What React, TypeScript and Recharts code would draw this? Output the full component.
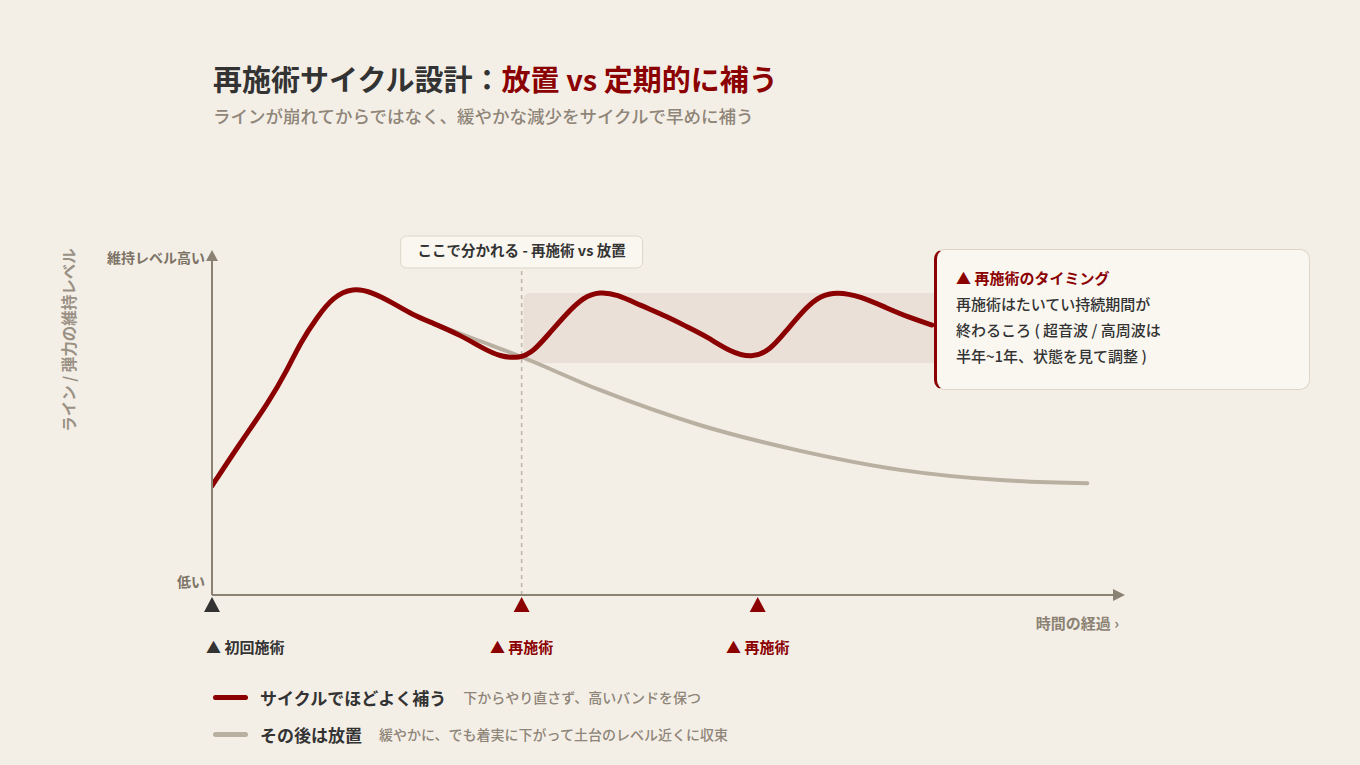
import React from 'react';
import { LineChart, Line, XAxis, YAxis, ReferenceLine, ReferenceArea, ReferenceDot } from 'recharts';

// ---- data ----
const cycleTime = [0, 3.1, 6.2, 8.3, 9.7, 11.6, 13.3, 15.5, 17.7, 19.9, 22.1, 24.3, 27.3, 29.8, 31.7, 33.9, 35.4, 37.2, 39.1, 40.9, 42.7, 44.6, 47.1, 50.1, 52.3, 54.5, 57.0, 59.5, 61.5, 63.3, 65.5, 67.0, 68.8, 71.4, 74.3, 76.9, 79.3];
const cycleLevel = [32.1, 44.7, 56.5, 66.2, 74.1, 81.8, 87.6, 90.4, 89.0, 85.9, 82.4, 80.0, 76.5, 72.6, 70.1, 69.6, 71.6, 77.1, 82.9, 87.6, 89.2, 88.4, 85.3, 81.9, 78.9, 76.0, 71.6, 69.6, 72.1, 77.9, 84.8, 88.0, 89.2, 87.9, 84.4, 81.5, 79.4];
const neglectTime = [24.3, 29.2, 34.1, 42.7, 53.7, 64.8, 75.8, 86.8, 96.4];
const neglectLevel = [80.0, 75.0, 70.0, 60.3, 50.0, 42.4, 36.8, 33.8, 32.9];
const bandRange = [34.3, 88, 68.2, 88.8]; // t1, t2, low, high
const splitTime = 34.1;
const markerTimes = [0, 34.1, 60.1];
const markerLabels = ['初回施術', '再施術', '再施術'];
const markerKinds = ['initial', 'retreat', 'retreat'];
const yTickValues = [3.5, 98.8];
const yTickLabels = ['低い', '維持レベル高い'];
const legendNames = ['サイクルでほどよく補う', 'その後は放置'];
const legendNotes = ['下からやり直さず、高いバンドを保つ', '緩やかに、でも着実に下がって土台のレベル近くに収束'];

const cycleData = cycleTime.map((t, i) => ({ t, v: cycleLevel[i] }));
const neglectData = neglectTime.map((t, i) => ({ t, v: neglectLevel[i] }));

const RED = '#8b0000';
const GRAY = '#bab0a1';
const AXIS = '#8c8273';
const BG = '#f3efe7';
const FONT = "'Noto Sans CJK JP', 'Noto Sans', sans-serif";

const MarkerShape = (props: any) => {
  const { cx, cy, idx } = props;
  const kind = markerKinds[idx];
  const color = kind === 'initial' ? '#333333' : RED;
  const anchor = kind === 'initial' ? 'start' : 'middle';
  const tx = kind === 'initial' ? cx - 6 : cx;
  return (
    <g>
      <polygon points={`${cx},${cy + 2} ${cx - 8},${cy + 17} ${cx + 8},${cy + 17}`} fill={color} />
      <text x={tx} y={cy + 54} textAnchor={anchor} dominantBaseline="middle" fill={color} fontSize={15} fontWeight={700} fontFamily={FONT}>
        {'▲ ' + markerLabels[idx]}
      </text>
    </g>
  );
};

const UpArrow = (props: any) => {
  const { cx, cy } = props;
  return <polygon points={`${cx},${cy - 5} ${cx - 6},${cy + 6} ${cx + 6},${cy + 6}`} fill={AXIS} />;
};
const RightArrow = (props: any) => {
  const { cx, cy } = props;
  return <polygon points={`${cx + 5},${cy} ${cx - 7},${cy - 6} ${cx - 7},${cy + 6}`} fill={AXIS} />;
};

const SplitLabel = (props: any) => {
  const vb = props.viewBox || {};
  const x = vb.x;
  const y = vb.y;
  return (
    <g>
      <rect x={x - 121} y={y - 19} width={242} height={32} rx={6} ry={6} fill="#faf7f1" stroke="#ddd5c8" strokeWidth={1} />
      <text x={x} y={y - 3} textAnchor="middle" dominantBaseline="middle" fill="#333" fontSize={14.5} fontWeight={700} fontFamily={FONT}>
        ここで分かれる - 再施術 vs 放置
      </text>
    </g>
  );
};

const YTick = (props: any) => {
  const { x, y, payload } = props;
  const i = yTickValues.indexOf(payload.value);
  return (
    <text x={x} y={y} textAnchor="end" dominantBaseline="middle" fill="#7d7366" fontSize={14} fontWeight={700} fontFamily={FONT}>
      {yTickLabels[i]}
    </text>
  );
};

export default function App() {
  return (
    <div style={{ position: 'absolute', left: 0, top: 0, width: 1360, height: 765, background: BG, fontFamily: FONT, overflow: 'hidden' }}>
      <div style={{ position: 'absolute', left: 213, top: 61, fontSize: 29, fontWeight: 700, lineHeight: '34px', color: '#333', whiteSpace: 'nowrap' }}>
        再施術サイクル設計：<span style={{ color: RED }}>放置 vs 定期的に補う</span>
      </div>
      <div style={{ position: 'absolute', left: 213, top: 105, fontSize: 17.5, fontWeight: 500, lineHeight: '22px', color: '#8f8578', whiteSpace: 'nowrap' }}>
        ラインが崩れてからではなく、緩やかな減少をサイクルで早めに補う
      </div>

      <div style={{ position: 'absolute', left: 0, top: 0 }}>
        <LineChart width={1360} height={765} data={cycleData} margin={{ top: 255, right: 240, bottom: 170, left: 92 }}>
          <XAxis type="number" dataKey="t" domain={[0, 100]} hide allowDataOverflow />
          <YAxis
            type="number"
            domain={[0, 100]}
            width={120}
            ticks={yTickValues}
            tick={<YTick />}
            tickLine={false}
            tickSize={0}
            tickMargin={7}
            axisLine={{ stroke: AXIS, strokeWidth: 2 }}
            interval={0}
          />
          <ReferenceArea x1={bandRange[0]} x2={bandRange[1]} y1={bandRange[2]} y2={bandRange[3]} fill="#ebe0d7" fillOpacity={1} stroke="none" radius={6} />
          <ReferenceLine x={splitTime} stroke="#bdb3a6" strokeWidth={1.5} strokeDasharray="4 4" label={<SplitLabel />} />
          <ReferenceLine y={0} stroke={AXIS} strokeWidth={2} />
          <Line data={neglectData} dataKey="v" type="monotone" stroke={GRAY} strokeWidth={4} dot={false} isAnimationActive={false} strokeLinecap="round" />
          <Line data={cycleData} dataKey="v" type="basis" stroke={RED} strokeWidth={5} dot={false} isAnimationActive={false} strokeLinecap="round" />
          <ReferenceDot x={0} y={100} r={6} shape={(p: any) => <UpArrow {...p} />} />
          <ReferenceDot x={100} y={0} r={6} shape={(p: any) => <RightArrow {...p} />} />
          {markerTimes.map((t, i) => (
            <ReferenceDot key={i} x={t} y={0} r={8} shape={(p: any) => <MarkerShape {...p} idx={i} />} />
          ))}
        </LineChart>
      </div>

      <div style={{ position: 'absolute', left: -82, top: 330, width: 300, height: 20, lineHeight: '20px', textAlign: 'center', transform: 'rotate(-90deg)', fontSize: 15.5, fontWeight: 700, color: '#9a9184', whiteSpace: 'nowrap' }}>
        ライン / 弾力の維持レベル
      </div>
      <div style={{ position: 'absolute', right: 1360 - 1119, top: 613, fontSize: 15, fontWeight: 700, lineHeight: '20px', color: AXIS, whiteSpace: 'nowrap' }}>
        時間の経過 ›
      </div>

      <div style={{ position: 'absolute', left: 934, top: 249, width: 376, height: 141, boxSizing: 'border-box', background: '#faf7f1', border: '1px solid #ddd5c8', borderLeft: `3px solid ${RED}`, borderRadius: 10, padding: '15px 0 0 19px', fontSize: 15, lineHeight: '26px', color: '#333', fontWeight: 500 }}>
        <div style={{ color: RED, fontWeight: 700 }}>▲ 再施術のタイミング</div>
        <div>再施術はたいてい持続期間が</div>
        <div>終わるころ ( 超音波 / 高周波は</div>
        <div>半年~1年、状態を見て調整 )</div>
      </div>

      {legendNames.map((name, i) => (
        <div key={i} style={{ position: 'absolute', left: 213, top: 686 + i * 37, height: 22, display: 'flex', alignItems: 'center', whiteSpace: 'nowrap' }}>
          <div style={{ width: 35, height: 5, borderRadius: 3, background: i === 0 ? RED : GRAY, marginRight: 12 }} />
          <span style={{ fontSize: 17, fontWeight: 700, color: '#333', marginRight: 17 }}>{name}</span>
          <span style={{ fontSize: 14, fontWeight: 500, color: '#8f8578' }}>{legendNotes[i]}</span>
        </div>
      ))}
    </div>
  );
}
